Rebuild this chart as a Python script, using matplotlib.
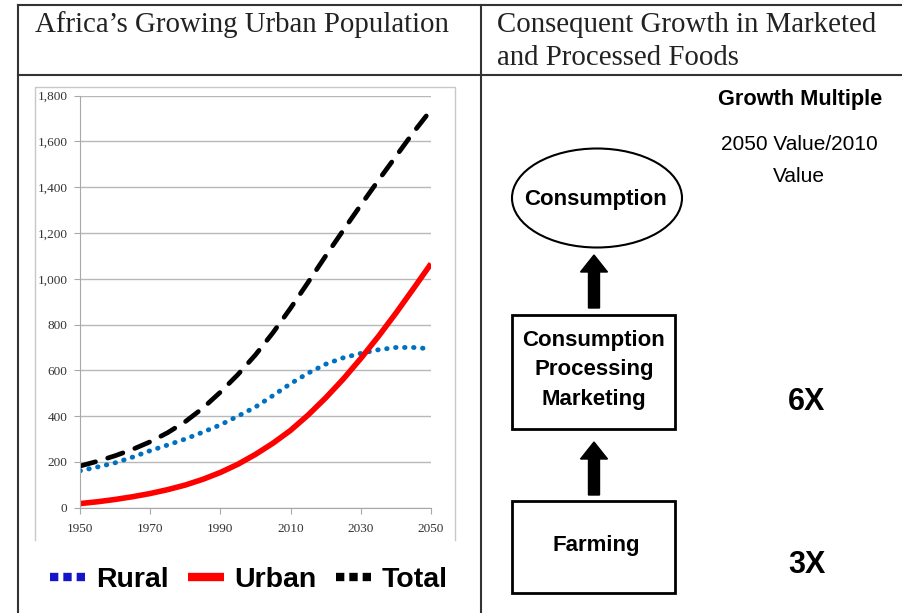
import matplotlib
matplotlib.use("Agg")
import matplotlib.pyplot as plt
from matplotlib.lines import Line2D
from matplotlib.patches import Ellipse, Rectangle, FancyArrow

# --- data (millions) ---
years = [1950, 1955, 1960, 1965, 1970, 1975, 1980, 1985, 1990, 1995, 2000,
         2005, 2010, 2015, 2020, 2025, 2030, 2035, 2040, 2045, 2050]
rural = [161, 178, 196, 221, 249, 274, 300, 330, 362, 400, 440,
         490, 542, 588, 627, 655, 674, 690, 700, 700, 694]
urban = [18, 26, 36, 48, 62, 79, 99, 124, 154, 190, 233,
         282, 338, 405, 480, 562, 652, 748, 850, 957, 1066]
total = [182, 203, 227, 255, 288, 328, 376, 435, 505, 582, 668,
         765, 872, 985, 1100, 1212, 1322, 1430, 1535, 1640, 1738]
series_names = ["Rural", "Urban", "Total"]
yticks = list(range(0, 1801, 200))
xticks = [1950, 1970, 1990, 2010, 2030, 2050]

left_title = "Africa\u2019s Growing Urban Population"
right_title = ["Consequent Growth in Marketed", "and Processed Foods"]
stages = ["Consumption", "Consumption\nProcessing\nMarketing", "Farming"]
multiples = ["6X", "3X"]

W, H = 903, 613
fig = plt.figure(figsize=(W / 100, H / 100), dpi=100)

serif = ["Liberation Serif", "DejaVu Serif"]
sans = ["Liberation Sans", "DejaVu Sans"]

# overlay in pixel coordinates for the table and the flow diagram
ov = fig.add_axes([0, 0, 1, 1])
ov.set_xlim(0, W)
ov.set_ylim(H, 0)
ov.axis("off")

lc = "#333333"
ov.plot([18, 18], [5, H], color=lc, lw=1.5)
ov.plot([18, W], [5, 5], color=lc, lw=1.5)
ov.plot([18, W], [75, 75], color=lc, lw=1.5)
ov.plot([481, 481], [5, H], color=lc, lw=1.5)

ov.text(35, 25, left_title, family=serif, fontsize=20.8, va="center", ha="left", color="#222222")
ov.text(497, 25, right_title[0], family=serif, fontsize=20.8, va="center", ha="left", color="#222222")
ov.text(497, 58, right_title[1], family=serif, fontsize=20.8, va="center", ha="left", color="#222222")

# chart-area frame
ov.plot([35, 35, 455, 455], [540, 87, 87, 540], color="#c8c8c8", lw=1)

# flow diagram
ov.add_patch(Ellipse((597, 198), 170, 99, fill=False, ec="black", lw=1.5))
ov.text(596, 200, stages[0], family=sans, fontweight="bold", fontsize=16, ha="center", va="center")
ov.add_patch(Rectangle((512, 315), 163, 114, fill=False, ec="black", lw=2))
ov.text(594, 370, stages[1], family=sans, fontweight="bold", fontsize=16, ha="center", va="center",
        linespacing=1.55)
ov.add_patch(Rectangle((512, 501), 163, 92, fill=False, ec="black", lw=2))
ov.text(596, 545, stages[2], family=sans, fontweight="bold", fontsize=16, ha="center", va="center")

for base, tip in [(308, 255), (495, 442)]:
    ov.add_patch(FancyArrow(594, base, 0, tip - base, width=11, head_width=27, head_length=17,
                            length_includes_head=True, color="black"))

ov.text(800, 100, "Growth Multiple", family=sans, fontweight="bold", fontsize=15.7, ha="center", va="center")
ov.text(799, 145, "2050 Value/2010", family=sans, fontsize=15, ha="center", va="center")
ov.text(799, 176, "Value", family=sans, fontsize=15, ha="center", va="center")
ov.text(807, 402, multiples[0], family=sans, fontweight="bold", fontsize=22, ha="center", va="center")
ov.text(807, 565, multiples[1], family=sans, fontweight="bold", fontsize=22, ha="center", va="center")

# --- line chart ---
x0, x1 = 80, 431
y0, y1 = 507.7, 95.7
ax = fig.add_axes([x0 / W, (H - y0) / H, (x1 - x0) / W, (y0 - y1) / H])
ax.set_xlim(1950, 2050)
ax.set_ylim(0, 1800)

blue, red = "#0070C0", "#FF0000"
ax.plot(years, rural, color=blue, lw=3.5, linestyle=(0, (0.1, 1.75)), dash_capstyle="round")
ax.plot(years, urban, color=red, lw=4, solid_capstyle="butt")
ax.plot(years, total, color="black", lw=3.4, linestyle=(0, (3.4, 2.7)), dash_capstyle="round")

ax.set_yticks(yticks)
ax.set_yticklabels([f"{v:,}" for v in yticks])
ax.set_xticks(xticks)
ax.yaxis.grid(True, color="#b8b8b8", lw=1)
ax.set_axisbelow(True)
for s in ["top", "right"]:
    ax.spines[s].set_visible(False)
for s in ["left", "bottom"]:
    ax.spines[s].set_color("#a8a8a8")
ax.tick_params(axis="both", colors="#a8a8a8", length=4, labelcolor="#333333")
ax.tick_params(axis="x", pad=7)
ax.tick_params(axis="y", pad=5)
for lab in ax.get_xticklabels() + ax.get_yticklabels():
    lab.set_family(serif)
    lab.set_fontsize(9.5)
ax.set_facecolor("none")

handles = [
    Line2D([], [], color="#1414C8", lw=6, linestyle=(0, (1, 0.6)), dash_capstyle="butt"),
    Line2D([], [], color=red, lw=6, solid_capstyle="butt"),
    Line2D([], [], color="black", lw=6, linestyle=(0, (1, 0.6)), dash_capstyle="butt"),
]
leg = fig.legend(handles, series_names, loc="center", bbox_to_anchor=(249 / W, (H - 580) / H),
                 ncol=3, frameon=False, handlelength=1.25, handletextpad=0.35, columnspacing=0.7,
                 prop={"family": sans, "weight": "bold", "size": 20.5})

fig.savefig("out.png", dpi=100)
